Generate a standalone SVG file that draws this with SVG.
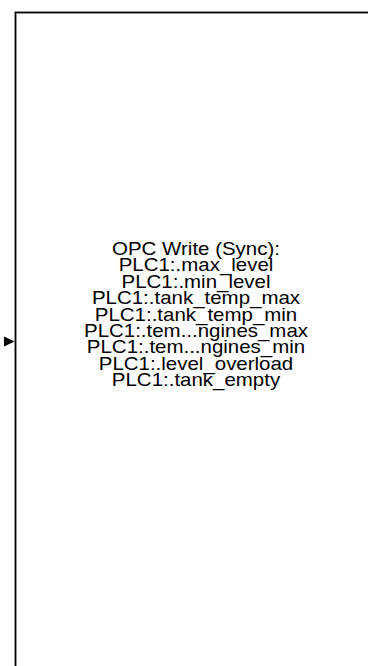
<svg xmlns="http://www.w3.org/2000/svg" width="368" height="666" viewBox="0 0 368 666">
  <style>
    .frame-halo { fill: none; stroke: #c8c8c8; stroke-width: 3; }
    .frame { fill: none; stroke: #000; stroke-width: 1.5; }
    .label { font-family: "Liberation Sans", Arial, sans-serif; font-size: 17.5px; fill: #000; text-anchor: middle; }
    .port { fill: #000; }
  </style>
  <rect width="368" height="666" fill="#fff"/>

  <!-- OPC Write block (frame runs past the canvas edge) -->
  <g id="opc-write-block">
    <rect class="frame-halo" x="15.5" y="12.5" width="420" height="720"/>
    <rect class="frame" x="15.5" y="12.5" width="420" height="720"/>
    <g transform="translate(196,0) scale(1.17,1)">
      <text class="label" x="0" y="255">OPC Write (Sync):</text>
      <text class="label" x="0" y="271.4">PLC1:.max_level</text>
      <text class="label" x="0" y="287.8">PLC1:.min_level</text>
      <text class="label" x="0" y="304.2">PLC1:.tank_temp_max</text>
      <text class="label" x="0" y="320.6">PLC1:.tank_temp_min</text>
      <text class="label" x="0" y="337">PLC1:.tem...ngines_max</text>
      <text class="label" x="0" y="353.4">PLC1:.tem...ngines_min</text>
      <text class="label" x="0" y="369.8">PLC1:.level_overload</text>
      <text class="label" x="0" y="386.2">PLC1:.tank_empty</text>
    </g>
  </g>

  <!-- input port arrowhead -->
  <g id="connectors">
    <polygon class="port" points="4,336.5 14.5,341.5 4,346.5"/>
  </g>
</svg>
